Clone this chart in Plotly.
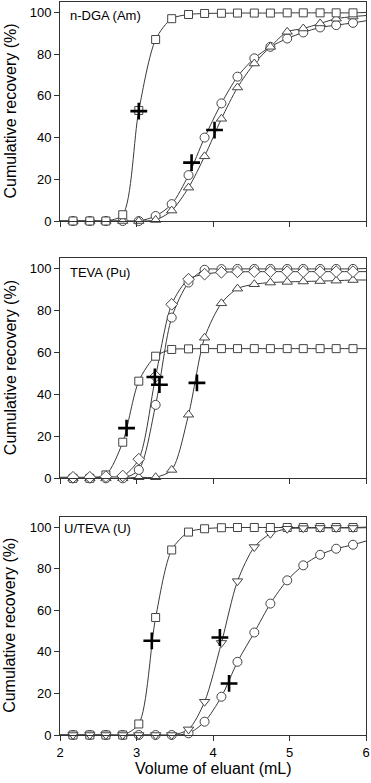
import plotly.graph_objects as go

# ---- data ----
x_frac = [2.17, 2.39, 2.60, 2.82, 3.03, 3.25, 3.46, 3.68, 3.89, 4.11, 4.32, 4.54, 4.75, 4.97, 5.18, 5.40, 5.61, 5.83]
x_start = 2.0
x_end = 6.0

# Panel 1: n-DGA (Am)
am_square = [0, 0, 0, 3, 53, 87, 97, 99, 99.5, 99.6, 99.7, 99.7, 99.7, 99.8, 99.8, 99.8, 99.8, 99.8]
am_circle = [0, 0, 0, 0, 0, 2.4, 8.1, 22, 40, 56.4, 69.2, 78, 83.5, 87.5, 90.4, 92.8, 93.9, 95]
am_triangle = [0, 0, 0, 0, 0, 0.5, 5, 16, 31, 49, 64, 75.5, 83.5, 90.7, 92.3, 94.7, 97, 98]
am_ends = {"square": 100, "circle": 96, "triangle": 98.5}
am_plus_x = [3.03, 3.72, 4.02]
am_plus_y = [52.7, 28, 43.6]

# Panel 2: TEVA (Pu)
pu_square = [0, 0, 1.6, 17.2, 46.3, 58.2, 61.4, 61.7, 61.8, 61.8, 61.8, 61.8, 61.8, 61.8, 61.8, 61.8, 61.8, 61.8]
pu_circle = [0, 0, 0, 0, 4, 35, 76.6, 93.3, 99.4, 99.7, 99.8, 99.8, 99.8, 99.8, 99.8, 99.8, 99.8, 99.8]
pu_diamond = [0.5, 0.5, 0.8, 1.1, 9.1, 48.6, 82.9, 94.9, 97.3, 98.2, 98.4, 98.5, 98.5, 98.5, 98.5, 98.5, 98.5, 98.5]
pu_triangle = [0, 0, 0, 0, 0.5, 0.5, 4, 30.3, 67, 83.4, 90.4, 92.5, 93.3, 93.6, 93.8, 94, 94.2, 94.5]
pu_ends = {"square": 61.8, "circle": 100, "diamond": 98.5, "triangle": 94.5}
pu_plus_x = [2.87, 3.24, 3.30, 3.79]
pu_plus_y = [23.9, 48.3, 44.6, 45.5]

# Panel 3: U/TEVA (U)
u_square = [0, 0, 0, 0, 5.3, 56.5, 89, 97.6, 99.2, 99.7, 99.8, 99.8, 99.8, 99.8, 99.8, 99.8, 99.8, 99.8]
u_tridown = [0, 0, 0, 0, 0, 0, 0, 2.7, 16, 44.3, 74, 90.4, 96.8, 99.2, 99.5, 99.6, 99.6, 99.6]
u_circle = [0, 0, 0, 0, 0, 0, 0, 0.8, 6.4, 18.4, 35.2, 49.3, 63.2, 74.4, 81.6, 86.7, 89.6, 91.5]
u_ends = {"square": 100, "tridown": 99.7, "circle": 93.3}
u_plus_x = [3.20, 4.09, 4.21]
u_plus_y = [45.3, 46.9, 24.8]

panel_labels = ["n-DGA (Am)", "TEVA (Pu)", "U/TEVA (U)"]
x_title = "Volume of eluant (mL)"
y_title = "Cumulative recovery (%)"
x_ticks = [2, 3, 4, 5, 6]
y_ticks = [0, 20, 40, 60, 80, 100]

FONT = "Liberation Sans, Arial, sans-serif"
LINE_C = "#3a3a3a"
MK_C = "#444444"

fig = go.Figure()

sizes = {"square": 8, "circle": 9, "triangle-up": 9, "triangle-down": 9, "diamond": 9}


def add_series(ax, vals, start_val, end_val, symbol):
    xs = [x_start] + x_frac + [x_end]
    ys = [start_val] + vals + [end_val]
    fig.add_trace(go.Scatter(x=xs, y=ys, mode="lines", xaxis="x" + ax, yaxis="y" + ax,
                             line=dict(color=LINE_C, width=1, shape="spline", smoothing=0.8),
                             showlegend=False, hoverinfo="skip", cliponaxis=False))
    return dict(ax=ax, vals=vals, symbol=symbol)


def add_markers(item):
    fig.add_trace(go.Scatter(x=x_frac, y=item["vals"], mode="markers",
                             xaxis="x" + item["ax"], yaxis="y" + item["ax"],
                             marker=dict(symbol=item["symbol"], size=sizes[item["symbol"]], color="white",
                                         line=dict(color=MK_C, width=1)),
                             showlegend=False, cliponaxis=False))


def add_plus(ax, px, py):
    fig.add_trace(go.Scatter(x=px, y=py, mode="markers", xaxis="x" + ax, yaxis="y" + ax,
                             marker=dict(symbol="cross-thin", size=12, color="black",
                                         line=dict(color="black", width=2.6)),
                             showlegend=False, cliponaxis=False))


items = []
# panel 1 (axis "" -> x/y)
items.append(add_series("", am_circle, 0, am_ends["circle"], "circle"))
items.append(add_series("", am_triangle, 0, am_ends["triangle"], "triangle-up"))
items.append(add_series("", am_square, 0, am_ends["square"], "square"))
# panel 2
items.append(add_series("2", pu_triangle, 0, pu_ends["triangle"], "triangle-up"))
items.append(add_series("2", pu_circle, 0, pu_ends["circle"], "circle"))
items.append(add_series("2", pu_square, 0, pu_ends["square"], "square"))
items.append(add_series("2", pu_diamond, 0.5, pu_ends["diamond"], "diamond"))
# panel 3
items.append(add_series("3", u_circle, 0, u_ends["circle"], "circle"))
items.append(add_series("3", u_square, 0, u_ends["square"], "square"))
items.append(add_series("3", u_tridown, 0, u_ends["tridown"], "triangle-down"))
for it in items:
    add_markers(it)
add_plus("", am_plus_x, am_plus_y)
add_plus("2", pu_plus_x, pu_plus_y)
add_plus("3", u_plus_x, u_plus_y)

W, H = 371, 783
ML, MR, MT, MB = 60, 5, 2, 48
plot_w = W - ML - MR
plot_h = H - MT - MB
domains = [[514 / plot_h, 1.0], [256.7 / plot_h, 477 / plot_h], [0.0, 218.3 / plot_h]]
axis_common = dict(showline=True, linecolor="#333333", linewidth=1, mirror=True, ticks="outside",
                   ticklen=5, tickcolor="#333333", showgrid=False, zeroline=False, automargin=False)
layout = dict(width=W, height=H, plot_bgcolor="white", paper_bgcolor="white",
              margin=dict(l=ML, r=MR, t=MT, b=MB, autoexpand=False),
              font=dict(family=FONT, color="black", size=13), showlegend=False,
              hovermode=False)
names = ["", "2", "3"]
label_y = [0.94, 0.932, 0.947]
label_x = [0.027, 0.027, 0.005]
annotations = []
for i, n in enumerate(names):
    xa = dict(axis_common, range=[2, 6], tickvals=x_ticks, anchor="y" + n, domain=[0, 1],
              showticklabels=(i == 2), tickfont=dict(size=13))
    ya = dict(axis_common, range=[0, 105], tickvals=y_ticks, anchor="x" + n, domain=domains[i],
              tickfont=dict(size=13))
    layout["xaxis" + n] = xa
    layout["yaxis" + n] = ya
    annotations.append(dict(text=panel_labels[i], xref=("x" + n + " domain"), yref=("y" + n + " domain"),
                            x=label_x[i], y=label_y[i], xanchor="left", yanchor="middle",
                            showarrow=False, font=dict(size=13)))
    annotations.append(dict(text=y_title, xref="paper", yref="paper", textangle=-90,
                            x=(10 - ML) / plot_w, y=(domains[i][0] + domains[i][1]) / 2,
                            xanchor="center", yanchor="middle", showarrow=False, font=dict(size=16)))
annotations.append(dict(text=x_title, xref="paper", yref="paper", x=0.5, y=-(768 - (H - MB)) / plot_h,
                        xanchor="center", yanchor="middle", showarrow=False, font=dict(size=16)))
layout["annotations"] = annotations
fig.update_layout(**layout)
fig.write_html("out.html", config={"displayModeBar": False},
               post_script="document.body.style.margin='0';document.body.style.overflow='hidden';")
